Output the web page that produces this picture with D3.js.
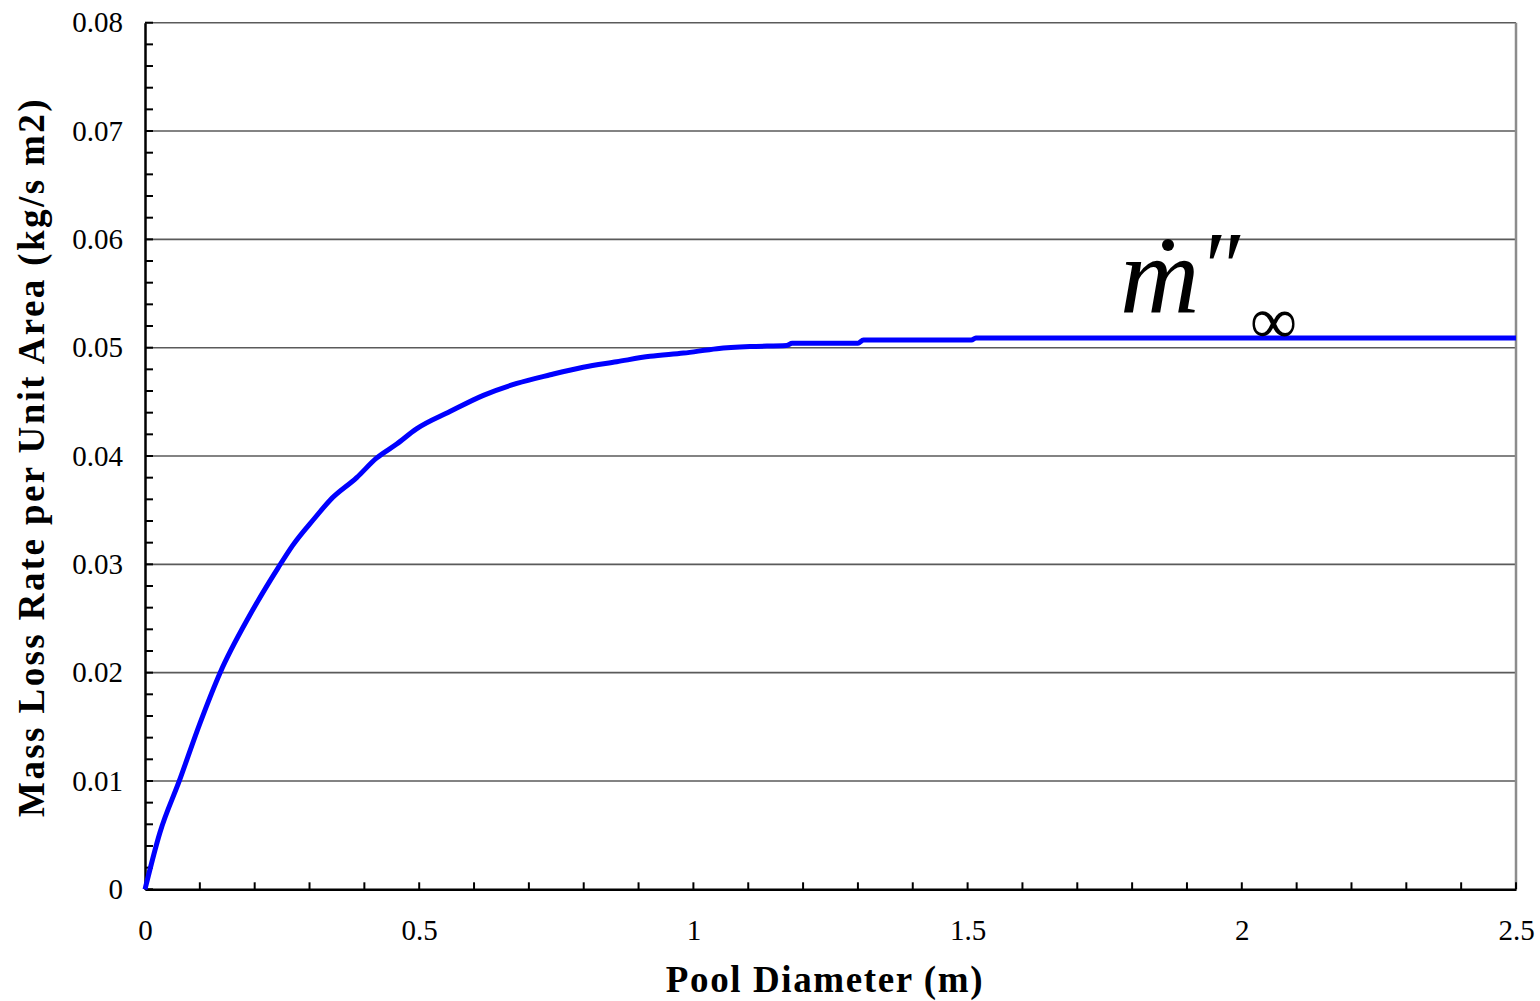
<!DOCTYPE html>
<html><head><meta charset="utf-8">
<script src="https://cdn.jsdelivr.net/npm/d3@7"></script>
<style>html,body{margin:0;padding:0;background:#fff;}</style>
</head><body>
<svg id="c" width="1540" height="1001"></svg>
<script>
const diameter = [0,0.027,0.0625,0.100,0.137,0.191,0.243,0.270,0.310,0.337,0.386,0.422,0.459,0.495,0.556,0.617,0.678,0.739,0.799,0.860,0.921,0.982,1.043,1.103,1.17,1.18,1.30,1.31,1.507,1.515,2.5];
const massLoss = [0,0.0052,0.0100,0.0153,0.0200,0.0253,0.0297,0.0318,0.0343,0.0359,0.0380,0.0398,0.0411,0.0425,0.0441,0.0456,0.0467,0.0475,0.0482,0.0487,0.0492,0.0495,0.0499,0.0501,0.0502,0.0504,0.0504,0.0507,0.0507,0.0509,0.0509];
const xTicks = [0,0.5,1,1.5,2,2.5];
const xTickLabels = ["0","0.5","1","1.5","2","2.5"];
const yTicks = [0,0.01,0.02,0.03,0.04,0.05,0.06,0.07,0.08];
const yTickLabels = ["0","0.01","0.02","0.03","0.04","0.05","0.06","0.07","0.08"];
const xTitle = "Pool Diameter (m)";
const yTitle = "Mass Loss Rate per Unit Area (kg/s m2)";

const svg = d3.select("#c");
const L=145, R=1516, T=22.7, B=889.3;
const x = d3.scaleLinear().domain([0,2.5]).range([L,R]);
const y = d3.scaleLinear().domain([0,0.08]).range([B,T]);
const serif = "'Liberation Serif','Times New Roman',serif";

// gridlines
svg.append("g").selectAll("line").data(yTicks.filter(d=>d>0)).join("line")
  .attr("x1",L).attr("x2",R).attr("y1",d=>y(d)).attr("y2",d=>y(d))
  .attr("stroke","#5a5a5a").attr("stroke-width",1.6);
// right border
svg.append("line").attr("x1",R).attr("x2",R).attr("y1",T).attr("y2",B)
  .attr("stroke","#8c8c8c").attr("stroke-width",2.5);

// minor ticks
const yMinor = d3.range(0,0.0801,0.002);
svg.append("g").selectAll("line").data(yMinor).join("line")
  .attr("x1",L).attr("x2",L+8).attr("y1",d=>y(d)).attr("y2",d=>y(d))
  .attr("stroke","#000").attr("stroke-width",2);
const xMinor = d3.range(0,2.501,0.1);
svg.append("g").selectAll("line").data(xMinor).join("line")
  .attr("x1",d=>x(d)).attr("x2",d=>x(d)).attr("y1",B).attr("y2",B-7)
  .attr("stroke","#000").attr("stroke-width",2);

// axes
const yAxis = d3.axisLeft(y).tickValues(yTicks).tickFormat((d,i)=>yTickLabels[i]).tickSize(0).tickPadding(22);
const gy = svg.append("g").attr("transform",`translate(${L},0)`).call(yAxis);
gy.select(".domain").attr("stroke","#000").attr("stroke-width",2.5);
gy.selectAll("text").attr("font-family",serif).attr("font-size",29).attr("fill","#000");

const xAxis = d3.axisBottom(x).tickValues(xTicks).tickFormat((d,i)=>xTickLabels[i]).tickSize(0).tickPadding(30);
const gx = svg.append("g").attr("transform",`translate(0,${B})`).call(xAxis);
gx.select(".domain").attr("stroke","#000").attr("stroke-width",2.5);
gx.selectAll("text").attr("font-family",serif).attr("font-size",29).attr("fill","#000");

// curve
const line = d3.line().x((d,i)=>x(diameter[i])).y((d,i)=>y(massLoss[i])).curve(d3.curveMonotoneX);
svg.append("path").datum(massLoss).attr("d",line)
  .attr("fill","none").attr("stroke","#0000ff").attr("stroke-width",5)
  .attr("stroke-linejoin","round");

// titles
svg.append("text").attr("x",825).attr("y",992).attr("text-anchor","middle")
  .attr("font-family",serif).attr("font-weight","bold").attr("font-size",37)
  .attr("letter-spacing",1.6)
  .text(xTitle);
svg.append("text").attr("transform","translate(44,457) rotate(-90)").attr("text-anchor","middle")
  .attr("font-family",serif).attr("font-weight","bold").attr("font-size",37)
  .attr("letter-spacing",2.4)
  .text(yTitle);

// annotation m'' infinity
const ann = svg.append("g");
ann.append("text").attr("x",1120).attr("y",313).attr("font-family",serif)
  .attr("font-style","italic").attr("font-size",110).text("m");
ann.append("circle").attr("cx",1168).attr("cy",245).attr("r",6).attr("fill","#000");
ann.append("text").attr("x",1198).attr("y",300).attr("font-family",serif)
  .attr("font-style","italic").attr("font-size",100).text("″");
ann.append("text").attr("x",1250).attr("y",343).attr("font-family",serif)
  .attr("font-size",66).text("∞");
</script>
</body></html>
